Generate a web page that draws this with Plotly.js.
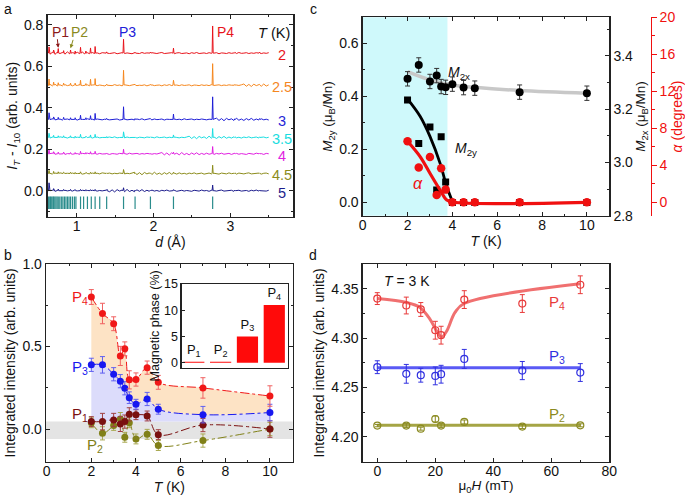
<!DOCTYPE html>
<html><head><meta charset="utf-8">
<script src="https://cdn.plot.ly/plotly-3.0.1.min.js"></script>
<style>html,body{margin:0;padding:0;background:#fff}#plot{width:685px;height:495px}</style>
</head><body><div id="plot"></div>
<script>
// ---------- Panel a data ----------
const temps_a = ['2','2.5','3','3.5','4','4.5','5'];
const offsets_a = [0.664, 0.509, 0.344, 0.257, 0.178, 0.083, 0.0];
const colors_a = ['#e8141c','#f5871f','#1f1fd6','#19dde0','#e01fe0','#8c8c1c','#1c1c8c'];
const dStart = 0.62, dEnd = 3.50;
const noise_a = [0.006,-0.005,0.004,-0.006,0.005,-0.002,0.003,-0.005,0.006,-0.004,0.002,-0.005,0.004,-0.003,0.005,-0.004,
 0.002,-0.003,0.003,-0.002,0.001,-0.003,0.002,-0.001,0.003,-0.002,0.000,0.002,-0.003,0.001,0.002,-0.002,0.001,-0.001,
 -0.003,0.002,0.000,-0.002,0.003,-0.001,0.001,-0.003,0.002,0.000,-0.002,0.001,0.003,-0.002,0.000,-0.001,0.002,-0.003,
 0.001,0.002,-0.002,0.000,0.001,-0.003,0.002,-0.001,0.003,-0.002,0.000,0.001,-0.002,0.002,-0.001,0.000,0.002,-0.003,
 0.001,0.000,-0.002,0.002,-0.001,0.001,-0.002,0.003,-0.001,0.000,0.002,-0.002,0.001,-0.001,0.002,0.000,-0.002,0.001,-0.001,0.002];
const peakD_a = [0.64,0.70,0.76,0.83,0.92,0.98,1.05,1.12,1.18,1.24,1.39,1.61,1.76,1.96,2.26,2.77,3.06,3.38];
const peakH_a = [
 [0.030,0.015,0.022,0.012,0.015,0.010,0.028,0.010,0.025,0.032,0.006,0.067,0.004,0.005,0.024,0.131,0.004,0.005],
 [0.030,0.015,0.012,0.010,0.010,0.010,0.024,0.008,0.029,0.032,0.005,0.072,0.004,0.004,0.024,0.104,0.004,0.004],
 [0.032,0.012,0.010,0.010,0.008,0.008,0.020,0.008,0.018,0.029,0.005,0.061,0.004,0.004,0.026,0.109,0.003,0.004],
 [0.020,0.010,0.008,0.008,0.008,0.006,0.015,0.006,0.012,0.015,0.004,0.027,0.003,0.003,0.012,0.043,0.003,0.003],
 [0.018,0.010,0.008,0.008,0.006,0.006,0.012,0.006,0.010,0.012,0.004,0.022,0.003,0.003,0.008,0.035,0.003,0.003],
 [0.015,0.010,0.008,0.006,0.006,0.005,0.008,0.005,0.006,0.008,0.003,0.019,0.003,0.003,0.006,0.040,0.003,0.003],
 [0.038,0.010,0.008,0.006,0.006,0.005,0.006,0.005,0.005,0.006,0.003,0.014,0.003,0.003,0.005,0.027,0.003,0.003]];
const reflD_a = [0.62,0.635,0.65,0.66,0.675,0.69,0.70,0.715,0.73,0.745,0.76,0.78,0.80,0.82,0.84,0.86,0.88,0.90,0.92,0.945,0.97,0.99,
 1.05,1.09,1.14,1.19,1.24,1.30,1.39,1.61,1.76,1.96,2.26,2.77];
const reflLevel_a = -0.058;

// ---------- Panel b data ----------
const T_b = [2,2.5,3,3.3,3.5,3.7,4,4.5,5,7,10];
const P4_b = [0.80,0.70,0.638,0.443,0.486,0.298,0.30,0.372,0.283,0.249,0.20];
const P4err_b = [0.045,0.062,0.042,0.058,0.042,0.055,0.04,0.04,0.042,0.062,0.062];
const P3_b = [0.389,0.389,0.332,0.29,0.247,0.19,0.15,0.182,0.12,0.087,0.10];
const P3err_b = [0.04,0.05,0.04,0.04,0.04,0.035,0.03,0.04,0.03,0.05,0.05];
const P1_b = [0.045,0.045,0.055,0.03,0.045,0.089,0.087,0.079,-0.034,0.024,0.0];
const P1err_b = [0.03,0.05,0.04,0.045,0.04,0.04,0.03,0.03,0.03,0.04,0.05];
const P2_b = [0.038,-0.026,0.022,0.06,-0.05,0.038,-0.06,-0.032,-0.10,-0.07,0.0];
const P2err_b = [0.03,0.04,0.03,0.04,0.03,0.03,0.03,0.03,0.03,0.04,0.04];
const bandLow_b = -0.06, bandHigh_b = 0.045;
const insetCats = ['P<sub>1</sub>','P<sub>2</sub>','P<sub>3</sub>','P<sub>4</sub>'];
const insetVals = [0.2, 0.2, 5, 11];

// ---------- Panel c data ----------
const T_c = [2,2.5,3,3.3,3.5,3.7,4,4.5,5,7,10];
const M2x_c = [3.314,3.366,3.304,3.326,3.285,3.282,3.294,3.281,3.279,3.264,3.26];
const M2xErr_c = [0.027,0.027,0.027,0.027,0.027,0.027,0.027,0.027,0.027,0.027,0.027];
const M2xFitT_c = [2,3,4,5,7,10];
const M2xFit_c = [3.341,3.31,3.291,3.282,3.27,3.26];
const M2y_c = [0.386,0.222,0.284,0.047,0.248,0.077,0,0,0,0,0];
const M2yFitT_c = [2.04,2.56,3.0,3.45,3.75,3.97];
const M2yFit_c = [0.386,0.325,0.249,0.148,0.06,0.01];
const alpha_c = [6.6,3.75,4.9,0.8,3.68,1.37,0,0,0,0,0];
const alphaFitT_c = [2,2.56,3.0,3.45,3.75,4.05,10];
const alphaFit_c = [6.6,4.94,3.14,1.33,0.25,0,0];
const shadeEnd_c = 3.78;

// ---------- Panel d data ----------
const H_d = [0,10,15,20,22,30,50,70];
const P4_d = [4.340,4.333,4.329,4.308,4.303,4.339,4.335,4.354];
const P4err_d = [0.006,0.0085,0.007,0.009,0.009,0.009,0.009,0.009];
const P3_d = [4.2706,4.2639,4.2625,4.2618,4.2635,4.279,4.2672,4.2652];
const P3err_d = [0.0065,0.0095,0.007,0.009,0.009,0.0096,0.0092,0.009];
const P2_d = [4.2115,4.2115,4.2084,4.2182,4.2115,4.2152,4.2105,4.2118];
const P2err_d = [0.0012,0.002,0.0015,0.003,0.002,0.002,0.002,0.0015];
const P4FitH_d = [0,10.1,14.7,18.2,20.5,22.2,23.9,26.8,29.9,69.9];
const P4Fit_d = [4.340,4.336,4.331,4.319,4.307,4.301,4.307,4.326,4.335,4.355];
const P3FitH_d = [0,70], P3Fit_d = [4.270,4.270];
const P2FitH_d = [0,70], P2Fit_d = [4.212,4.212];

// ---------- helpers ----------
const W = 685, H = 495;
const px = v => v / W, py = v => 1 - v / H;
const FONT = 'Liberation Sans, Arial, sans-serif';
const traces = [];

// Panel a spectra
temps_a.forEach((t, k) => {
  const pts = [];
  const n = noise_a.length;
  for (let i = 0; i < n; i++) {
    pts.push([dStart + i * (dEnd - dStart) / (n - 1), offsets_a[k] + noise_a[(i + 11 * k) % n]]);
  }
  peakD_a.forEach((d, j) => {
    const h = peakH_a[k][j];
    pts.push([d - 0.007, offsets_a[k]], [d, offsets_a[k] + h], [d + 0.007, offsets_a[k]]);
  });
  pts.sort((a, b) => a[0] - b[0]);
  traces.push({x: pts.map(p => p[0]), y: pts.map(p => p[1]), xaxis: 'x', yaxis: 'y', mode: 'lines',
    line: {color: colors_a[k], width: 1}, hoverinfo: 'skip'});
});
traces.push({x: reflD_a, y: reflD_a.map(() => reflLevel_a), xaxis: 'x', yaxis: 'y', mode: 'markers',
  marker: {symbol: 'line-ns', size: 9, line: {width: 1.2, color: '#2a8c8c'}}});

// Panel b fills
traces.push({x: T_b, y: T_b.map(() => bandHigh_b), xaxis: 'x2', yaxis: 'y2', mode: 'lines', line: {width: 0}, hoverinfo: 'skip'});
traces.push({x: T_b, y: P3_b, xaxis: 'x2', yaxis: 'y2', mode: 'lines', line: {width: 0, shape: 'spline'}, fill: 'tonexty', fillcolor: '#dcdcfb'});
traces.push({x: T_b, y: P4_b, xaxis: 'x2', yaxis: 'y2', mode: 'lines', line: {width: 0, shape: 'spline'}, fill: 'tonexty', fillcolor: '#fde3c5'});
const bSeries = [
  [P2_b, P2err_b, '#808018', '#a8a850'],
  [P1_b, P1err_b, '#7a1010', '#a04040'],
  [P3_b, P3err_b, '#1818f0', '#6060f0'],
  [P4_b, P4err_b, '#f01818', '#f06060']];
bSeries.forEach(([y, e, c, ce]) => {
  traces.push({x: T_b, y: y, xaxis: 'x2', yaxis: 'y2', mode: 'lines+markers',
    line: {color: c, width: 1, dash: 'dashdot', shape: 'spline'},
    marker: {color: c, size: 7},
    error_y: {type: 'data', array: e, visible: true, color: ce, thickness: 1, width: 2.5}});
});
// inset bars
traces.push({type: 'bar', x: [0,1,2,3], y: insetVals, xaxis: 'x5', yaxis: 'y7', marker: {color: '#ff0a0a'},
  text: insetCats, textposition: 'outside', textfont: {color: '#111', size: 13, family: FONT}, cliponaxis: false, width: 0.79});

// Panel c
traces.push({x: M2xFitT_c, y: M2xFit_c, xaxis: 'x3', yaxis: 'y4', mode: 'lines', line: {color: '#c8c8c8', width: 3.5, shape: 'spline'}});
traces.push({x: T_c, y: M2x_c, xaxis: 'x3', yaxis: 'y4', mode: 'markers', marker: {color: '#000', size: 8},
  error_y: {type: 'data', array: M2xErr_c, visible: true, color: '#333', thickness: 1, width: 2.5}});
traces.push({x: M2yFitT_c, y: M2yFit_c, xaxis: 'x3', yaxis: 'y3', mode: 'lines', line: {color: '#000', width: 2.8, shape: 'spline'}});
traces.push({x: T_c, y: M2y_c, xaxis: 'x3', yaxis: 'y3', mode: 'markers', marker: {color: '#000', size: 7, symbol: 'square'}});
traces.push({x: alphaFitT_c, y: alphaFit_c, xaxis: 'x3', yaxis: 'y5', mode: 'lines', line: {color: '#f01010', width: 3.2, shape: 'spline'}});
traces.push({x: T_c, y: alpha_c, xaxis: 'x3', yaxis: 'y5', mode: 'markers', marker: {color: '#f01010', size: 8.5}});

// Panel d
const dSeries = [
  [P4FitH_d, P4Fit_d, P4_d, P4err_d, '#f07070', '#e83a3a'],
  [P3FitH_d, P3Fit_d, P3_d, P3err_d, '#5a5af5', '#3030e0'],
  [P2FitH_d, P2Fit_d, P2_d, P2err_d, '#a5a545', '#8a8a20']];
dSeries.forEach(([fx, fy, y, e, lc, mc]) => {
  traces.push({x: fx, y: fy, xaxis: 'x4', yaxis: 'y6', mode: 'lines', line: {color: lc, width: 3, shape: 'spline'}});
  traces.push({x: H_d, y: y, xaxis: 'x4', yaxis: 'y6', mode: 'markers',
    marker: {color: mc, size: 7, symbol: 'circle-open', line: {width: 1.2}},
    error_y: {type: 'data', array: e, visible: true, color: mc, thickness: 1, width: 2.5}});
});

// ---------- layout ----------
const tf = {family: FONT, size: 14, color: '#111'};
const tf13 = {family: FONT, size: 13.5, color: '#111'};
function ax(o) {
  return Object.assign({showline: true, linecolor: '#222', linewidth: 1.3, mirror: 'ticks', ticks: 'inside',
    ticklen: 4, tickcolor: '#222', showgrid: false, zeroline: false, tickfont: tf,
    minor: {ticks: 'inside', ticklen: 2, tickcolor: '#222'}}, o);
}
const XLS = -4;
const layout = {
  width: W, height: H, margin: {l: 0, r: 0, t: 0, b: 0}, showlegend: false,
  paper_bgcolor: '#fff', plot_bgcolor: 'rgba(0,0,0,0)', font: tf, bargap: 0.2,
  xaxis: ax({domain: [px(47.5), px(293.3)], range: [0.62, 3.82], anchor: 'y', dtick: 1, tick0: 0, ticklabelstandoff: XLS,
    minor: {ticks: 'inside', ticklen: 2, dtick: 0.5, tickcolor: '#222'},
    title: {text: '<i>d</i> (Å)', font: tf, standoff: 1}}),
  yaxis: ax({domain: [py(216.7), py(15)], range: [-0.1256, 0.848], anchor: 'x', dtick: 0.2, tick0: 0, tickformat: '.1f',
    minor: {ticks: 'inside', ticklen: 2, dtick: 0.1, tickcolor: '#222'},
    title: {text: '<i>I</i><sub><i>T</i></sub> - <i>I</i><sub>10</sub> (arb. units)', font: tf, standoff: 3}}),
  xaxis2: ax({domain: [px(46), px(292.7)], range: [-0.03, 11.02], anchor: 'y2', dtick: 2, tick0: 0, ticklabelstandoff: XLS,
    minor: {ticks: 'inside', ticklen: 2, dtick: 1, tickcolor: '#222'},
    title: {text: '<i>T</i> (K)', font: tf, standoff: 1}}),
  yaxis2: ax({domain: [py(461.7), py(264)], range: [-0.198, 1.0], anchor: 'x2', dtick: 0.5, tick0: 0, tickformat: '.1f',
    minor: {ticks: 'inside', ticklen: 2, dtick: 0.25, tickcolor: '#222'},
    title: {text: 'Integrated intensity (arb. units)', font: tf, standoff: 3}}),
  xaxis3: ax({domain: [px(362.7), px(609.3)], range: [0, 11.0], anchor: 'y3', dtick: 2, tick0: 0, ticklabelstandoff: XLS,
    minor: {ticks: 'inside', ticklen: 2, dtick: 1, tickcolor: '#222'},
    title: {text: '<i>T</i> (K)', font: tf, standoff: 1}}),
  yaxis3: ax({domain: [py(215.7), py(17.3)], range: [-0.05, 0.698], anchor: 'x3', mirror: false, dtick: 0.2, tick0: 0, tickformat: '.1f',
    minor: {ticks: 'inside', ticklen: 2, dtick: 0.1, tickcolor: '#222'},
    title: {text: '<i>M</i><sub>2y</sub> (μ<sub>B</sub>/Mn)', font: tf13, standoff: 3}}),
  yaxis4: ax({overlaying: 'y3', side: 'right', anchor: 'x3', range: [2.8, 3.545], mirror: false, dtick: 0.2, tick0: 2.8, tickformat: '.1f',
    minor: {ticks: 'inside', ticklen: 2, dtick: 0.1, tickcolor: '#222'},
    title: {text: '<i>M</i><sub>2x</sub> (μ<sub>B</sub>/Mn)', font: tf13, standoff: 1}}),
  yaxis5: ax({overlaying: 'y3', side: 'right', anchor: 'free', position: px(650.5), range: [-1.45, 20], mirror: false,
    dtick: 4, tick0: 0, ticks: 'outside', ticklen: 5, linecolor: '#f01010', tickcolor: '#f01010',
    tickfont: {family: FONT, size: 14, color: '#f01010'},
    minor: {ticks: 'outside', ticklen: 3, dtick: 2, tickcolor: '#f01010'},
    title: {text: '<i>α</i> (degrees)', font: {family: FONT, size: 14, color: '#f01010'}, standoff: 1}}),
  xaxis4: ax({domain: [px(362.7), px(609.3)], range: [-5.03, 80], anchor: 'y6', dtick: 20, tick0: 0, ticklabelstandoff: XLS,
    minor: {ticks: 'inside', ticklen: 2, dtick: 10, tickcolor: '#222'},
    title: {text: 'μ<sub>0</sub><i>H</i> (mT)', font: {family: FONT, size: 13.5, color: '#111'}, standoff: 3}}),
  yaxis6: ax({domain: [py(461.7), py(264)], range: [4.175, 4.375], anchor: 'x4', dtick: 0.05, tick0: 4.2, tickformat: '.2f',
    minor: {ticks: 'inside', ticklen: 2, dtick: 0.025, tickcolor: '#222'},
    title: {text: 'Integrated intensity (arb. units)', font: tf, standoff: 3}}),
  xaxis5: ax({domain: [px(181.7), px(287.7)], range: [-0.45, 3.5], anchor: 'y7', ticks: '', showticklabels: false, mirror: true, minor: {ticks: ''}}),
  yaxis7: ax({domain: [py(367.7), py(284)], range: [-0.95, 15], anchor: 'x5', dtick: 5, tick0: 0, mirror: true, ticklen: 3,
    tickfont: {family: FONT, size: 12.5, color: '#111'}, minor: {ticks: ''},
    title: {text: 'Magnetic phase (%)', font: {family: FONT, size: 12.5, color: '#111'}, standoff: 1}}),
  shapes: [
    {type: 'rect', xref: 'x3', yref: 'y3 domain', x0: 0, x1: shadeEnd_c, y0: 0, y1: 1, fillcolor: '#cff9fb', line: {width: 0}, layer: 'below'},
    {type: 'rect', xref: 'x2 domain', yref: 'y2', x0: 0, x1: 1, y0: bandLow_b, y1: bandHigh_b, fillcolor: '#e4e4e4', line: {width: 0}, layer: 'below'},
    {type: 'rect', xref: 'paper', yref: 'paper', x0: px(181.7), x1: px(287.7), y0: py(367.7), y1: py(284), fillcolor: '#fff', line: {width: 0}, layer: 'below'}
  ],
  annotations: []
};
const A = layout.annotations;
const ann = (text, x, y, color, size) => A.push({text, x: px(x), y: py(y), xref: 'paper', yref: 'paper',
  xanchor: 'center', yanchor: 'middle', showarrow: false, font: {family: FONT, size: size || 14, color: color || '#111'}});
// panel letters
ann('a', 8, 9); ann('b', 8, 255); ann('c', 313, 9); ann('d', 313, 255);
// panel a labels
temps_a.forEach((t, k) => A.push({text: t, x: px(282), xref: 'paper', y: offsets_a[k], yref: 'y', yshift: -2,
  xanchor: 'center', yanchor: 'middle', showarrow: false, font: {family: FONT, size: 14.5, color: colors_a[k]}}));
ann('<i>T</i> (K)', 274, 33, '#111', 14.5);
ann('P1', 60, 32, '#8b1a1a', 14);
ann('P2', 79, 32, '#8a8a1e', 14);
ann('P3', 128, 32, '#2020d8', 14);
ann('P4', 226, 32, '#e8141c', 14);
A.push({text: '', x: 0.76, y: 0.69, xref: 'x', yref: 'y', showarrow: true, ax: -1, ay: -10, arrowhead: 2, arrowsize: 0.8, arrowwidth: 1, arrowcolor: '#8b1a1a'});
A.push({text: '', x: 0.92, y: 0.687, xref: 'x', yref: 'y', showarrow: true, ax: 3, ay: -10, arrowhead: 2, arrowsize: 0.8, arrowwidth: 1, arrowcolor: '#8a8a1e'});
// panel b labels
ann('P<sub>4</sub>', 80, 297, '#f01818', 15);
ann('P<sub>3</sub>', 80, 367, '#1818f0', 15);
ann('P<sub>1</sub>', 80, 414, '#7a1010', 15);
ann('P<sub>2</sub>', 95, 445, '#808018', 15);
// panel c labels
ann('<i>M</i><sub>2x</sub>', 459, 73, '#111', 14);
ann('<i>M</i><sub>2y</sub>', 466, 149, '#111', 14);
ann('<i>α</i>', 418, 184, '#f01010', 16);
// panel d labels
ann('<i>T</i> = 3 K', 407, 281, '#111', 14);
ann('P<sub>4</sub>', 557, 302, '#e83a3a', 15);
ann('P<sub>3</sub>', 557, 356, '#3030e0', 15);
ann('P<sub>2</sub>', 557, 414, '#8a8a20', 15);

Plotly.newPlot('plot', traces, layout, {staticPlot: true, displayModeBar: false});
</script></body></html>
